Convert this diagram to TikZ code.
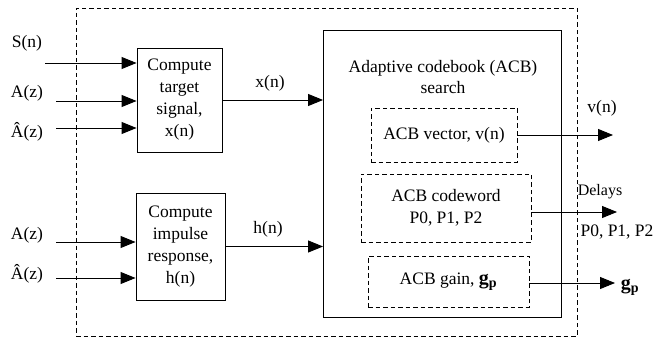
\documentclass[tikz,border=0pt]{standalone}
\usepackage{fontspec}
\setmainfont{Liberation Serif}
\usetikzlibrary{arrows.meta}
\begin{document}
\begin{tikzpicture}[x=1pt,y=-1pt,
  every node/.style={font=\fontsize{17.5}{22}\selectfont, inner sep=0pt},
  solidbox/.style={draw, line width=0.9pt, align=center},
  dbox/.style={draw, line width=0.9pt, dash pattern=on 4.5pt off 3pt, align=center},
  arr/.style={line width=0.9pt, -{Triangle[length=15pt,width=12pt]}},
  lbl/.style={align=center}]
\useasboundingbox (0,0) rectangle (658,339);
% outer dashed frame
\node[dbox, minimum width=501pt, minimum height=328pt] (frame) at (326.5,172) {};
% compute boxes
\node[solidbox, minimum width=85pt, minimum height=104pt] (ct) at (179.5,100)
  {Compute\\target\\signal,\\x(n)};
\node[solidbox, minimum width=89pt, minimum height=107pt] (ci) at (180.5,246.5)
  {Compute\\impulse\\response,\\h(n)};
% ACB
\node[solidbox, minimum width=238pt, minimum height=287pt] (acb) at (442.5,173.5) {};
\node[lbl, font=\fontsize{17.5}{21}\selectfont] (acbt) at (443,77) {Adaptive codebook (ACB)\\search};
\node[dbox, minimum width=146pt, minimum height=54pt] (vec) at (444,135) {ACB vector, v(n)};
\node[dbox, minimum width=170pt, minimum height=68pt] (cw) at (446,208) {ACB codeword\\P0, P1, P2};
\node[dbox, minimum width=161pt, minimum height=51pt] (gain) at (448.5,281.5)
  {ACB gain, {\fontsize{20}{22}\selectfont\bfseries g\textsubscript{p}}};
% input labels
\node (ls) at (27,43) {S(n)};
\node (la1) at (27,93) {A(z)};
\node (lah1) at (27,132) {\^A(z)};
\node (la2) at (27,235) {A(z)};
\node (lah2) at (27,274) {\^A(z)};
% input coordinates
\coordinate (s0) at (45,63);
\coordinate (a1) at (56,101);
\coordinate (ah1) at (56,128);
\coordinate (a2) at (56,242);
\coordinate (ah2) at (56,278);
\draw[arr] (s0) -- (s0 -| ct.west);
\draw[arr] (a1) -- (a1 -| ct.west);
\draw[arr] (ah1) -- (ah1 -| ct.west);
\draw[arr] (a2) -- (a2 -| ci.west);
\draw[arr] (ah2) -- (ah2 -| ci.west);
% internal
\draw[arr] (ct.east) -- (ct.east -| acb.west);
\draw[arr] (ci.east) -- (ci.east -| acb.west);
\node (lx) at (270,83) {x(n)};
\node (lh) at (268,229) {h(n)};
% outputs
\coordinate (vout) at (613,135);
\coordinate (dout) at (617,212);
\coordinate (gout) at (615,283);
\draw[arr] (vec.east |- vout) -- (vout);
\draw[arr] (cw.east |- dout) -- (dout);
\draw[arr] (gain.east |- gout) -- (gout);
\node (lv) at (602,108) {v(n)};
\node[font=\fontsize{16}{20}\selectfont] (ld) at (600,192) {Delays};
\node (lp) at (617,232) {P0, P1, P2};
\node[font=\fontsize{20}{22}\selectfont\bfseries] (lg) at (630,287) {g\textsubscript{p}};
\end{tikzpicture}
\end{document}
